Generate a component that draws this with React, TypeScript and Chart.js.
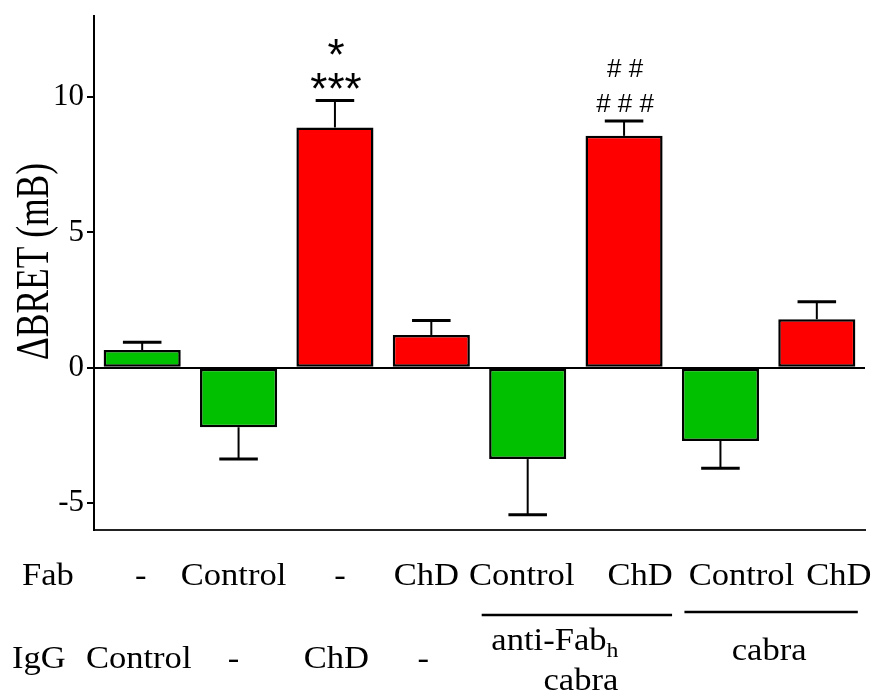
import React, { useEffect, useRef } from 'react';
import { Chart, registerables } from 'chart.js';

Chart.register(...registerables);

// ---- data ----
const categories = ['Fab - / IgG Control', 'Fab Control / IgG -', 'Fab - / IgG ChD', 'Fab ChD / IgG -',
  'Fab Control / anti-Fab cabra', 'Fab ChD / anti-Fab cabra', 'Fab Control / cabra', 'Fab ChD / cabra'];
const values = [0.65, -2.2, 8.88, 1.21, -3.38, 8.57, -2.71, 1.79];
const errors = [0.29, 1.18, 1.0, 0.53, 2.06, 0.55, 1.01, 0.65];
const barColors = ['#00C000', '#00C000', '#FF0000', '#FF0000', '#00C000', '#FF0000', '#00C000', '#FF0000'];
const yTicks = [-5, 0, 5, 10];
const yLabel = 'ΔBRET (mB)';
const fabRowTitle = 'Fab';
const igGRowTitle = 'IgG';
const fabLabels = ['-', 'Control', '-', 'ChD', 'Control', 'ChD', 'Control', 'ChD'];
const igGLabels = ['Control', '-', 'ChD', '-'];
const groupFirstBar = [4, 6];
const groupLastBar = [5, 7];
const annotationBars = [2, 5];
const annotationLines = [['*', '***'], ['# #', '# # #']];

// ---- layout / style ----
const W = 876;
const H = 699;
const SERIF = '"Liberation Serif", "Times New Roman", serif';
const SANS = '"Liberation Sans", Arial, sans-serif';
const SX = 1.08; // horizontal stretch to mimic the wider serif of the reference
const fabNudge = [-1.5, -5, 5, -5, -6, 16, 21, 22];
const igGNudge = [-3.5, -5, 1.5, -8];
const ROW1_Y = 585;
const ROW2_Y = 668;

function textAt(ctx: CanvasRenderingContext2D, t: string, x: number, y: number, align: CanvasTextAlign) {
  ctx.save();
  ctx.translate(x, y);
  ctx.scale(SX, 1);
  ctx.textAlign = align;
  ctx.fillText(t, 0, 0);
  ctx.restore();
}

const overlayPlugin = {
  id: 'overlay',
  afterDatasetsDraw(chart: any) {
    const ctx = chart.ctx as CanvasRenderingContext2D;
    const xs = chart.scales.x;
    const ys = chart.scales.y;
    const meta = chart.getDatasetMeta(0);
    ctx.save();
    ctx.strokeStyle = '#000';
    ctx.fillStyle = '#000';
    ctx.lineWidth = 2;
    ctx.lineCap = 'butt';
    // error bars
    const errTop: number[] = [];
    meta.data.forEach((el: any, i: number) => {
      const v = values[i];
      const end = v >= 0 ? v + errors[i] : v - errors[i];
      const y0 = ys.getPixelForValue(v);
      const y1 = ys.getPixelForValue(end);
      errTop.push(y1);
      const x = el.x;
      const half = el.width / 4;
      ctx.lineWidth = 2;
      ctx.beginPath();
      ctx.moveTo(x, y0);
      ctx.lineTo(x, y1);
      ctx.stroke();
      ctx.lineWidth = 3;
      ctx.beginPath();
      ctx.moveTo(x - half, y1);
      ctx.lineTo(x + half, y1);
      ctx.stroke();
    });
    ctx.lineWidth = 2;
    // significance annotations
    const annFonts = ['44px ' + SANS, '26px ' + SANS];
    const annGaps = [[-30.3, 3.2], [-44.2, -9.2]];
    annotationBars.forEach((b, k) => {
      const x = meta.data[b].x;
      ctx.font = annFonts[k];
      ctx.textAlign = 'center';
      ctx.textBaseline = 'alphabetic';
      annotationLines[k].forEach((t, j) => {
        ctx.fillText(t, x + 1, errTop[b] + annGaps[k][j]);
      });
    });

    // y axis title (condensed like the reference)
    ctx.save();
    ctx.font = '46px ' + SERIF;
    const tw = ctx.measureText(yLabel).width;
    ctx.translate(48, 261.5);
    ctx.rotate(-Math.PI / 2);
    ctx.scale(197 / tw, 1);
    ctx.textAlign = 'center';
    ctx.textBaseline = 'alphabetic';
    ctx.fillText(yLabel, 0, 0);
    ctx.restore();

    // bottom label rows
    ctx.font = '32px ' + SERIF;
    ctx.textBaseline = 'alphabetic';
    textAt(ctx, fabRowTitle, 22, ROW1_Y, 'left');
    textAt(ctx, igGRowTitle, 12, ROW2_Y, 'left');
    fabLabels.forEach((t, i) => {
      textAt(ctx, t, xs.getPixelForValue(i) + fabNudge[i], ROW1_Y, 'center');
    });
    igGLabels.forEach((t, i) => {
      textAt(ctx, t, xs.getPixelForValue(i) + igGNudge[i], ROW2_Y, 'center');
    });

    // group 1: anti-Fab_h cabra
    const g1a = xs.getPixelForValue(groupFirstBar[0]);
    const g1b = xs.getPixelForValue(groupLastBar[0]);
    ctx.lineWidth = 2.5;
    ctx.beginPath();
    ctx.moveTo(g1a - 46, 615);
    ctx.lineTo(g1b + 48, 615);
    ctx.stroke();
    const mid1 = (g1a + g1b) / 2;
    ctx.font = '32px ' + SERIF;
    const wMain = ctx.measureText('anti-Fab').width * SX;
    ctx.font = '22px ' + SERIF;
    const wSub = ctx.measureText('h').width * SX;
    const startX = mid1 - 21 - (wMain + wSub) / 2;
    ctx.font = '32px ' + SERIF;
    textAt(ctx, 'anti-Fab', startX, 650, 'left');
    ctx.font = '22px ' + SERIF;
    textAt(ctx, 'h', startX + wMain, 657, 'left');
    ctx.font = '32px ' + SERIF;
    textAt(ctx, 'cabra', mid1 + 5, 690, 'center');

    // group 2: cabra
    const g2a = xs.getPixelForValue(groupFirstBar[1]);
    const g2b = xs.getPixelForValue(groupLastBar[1]);
    ctx.beginPath();
    ctx.moveTo(g2a - 36, 612);
    ctx.lineTo(g2b + 41, 612);
    ctx.stroke();
    textAt(ctx, 'cabra', (g2a + g2b) / 2 + 0.5, 660, 'center');
    ctx.restore();
  },
};

export default function App() {
  const ref = useRef<HTMLCanvasElement | null>(null);
  useEffect(() => {
    if (!ref.current) return;
    const chart = new Chart(ref.current, {
      type: 'bar',
      data: {
        labels: categories,
        datasets: [
          {
            data: values,
            backgroundColor: barColors,
            borderColor: '#000',
            borderWidth: 2.5,
            borderSkipped: false,
            barPercentage: 0.8,
            categoryPercentage: 1.0,
          },
        ],
      },
      options: {
        responsive: false,
        animation: false,
        devicePixelRatio: 1,
        layout: { padding: { top: 16, right: 11, bottom: 0, left: 0 } },
        plugins: {
          legend: { display: false },
          tooltip: { enabled: false },
          title: { display: false },
        },
        scales: {
          x: {
            type: 'category',
            grid: { display: false },
            ticks: { display: false },
            border: { display: true, color: '#222', width: 2 },
            afterFit: (s: any) => {
              s.height = 169;
            },
          },
          y: {
            type: 'linear',
            min: -6,
            max: 13,
            afterBuildTicks: (s: any) => {
              s.ticks = yTicks.map((v) => ({ value: v }));
            },
            afterFit: (s: any) => {
              s.width = 94;
              s.paddingTop = 0;
              s.paddingBottom = 0;
            },
            ticks: {
              color: '#000',
              padding: 3,
              font: { family: SERIF, size: 31 },
              callback: (v: any) => String(v),
            },
            grid: {
              drawOnChartArea: true,
              color: (c: any) => (c.tick && c.tick.value === 0 ? '#000' : 'rgba(0,0,0,0)'),
              tickColor: '#000',
              tickLength: 7,
              lineWidth: 2,
            },
            border: { display: true, color: '#000', width: 2 },
          },
        },
      },
      plugins: [overlayPlugin],
    } as any);
    return () => chart.destroy();
  }, []);
  return (
    <div style={{ position: 'absolute', left: 0, top: 0, width: W, height: H, background: '#fff' }}>
      <canvas ref={ref} width={W} height={H} style={{ display: 'block' }} />
    </div>
  );
}
